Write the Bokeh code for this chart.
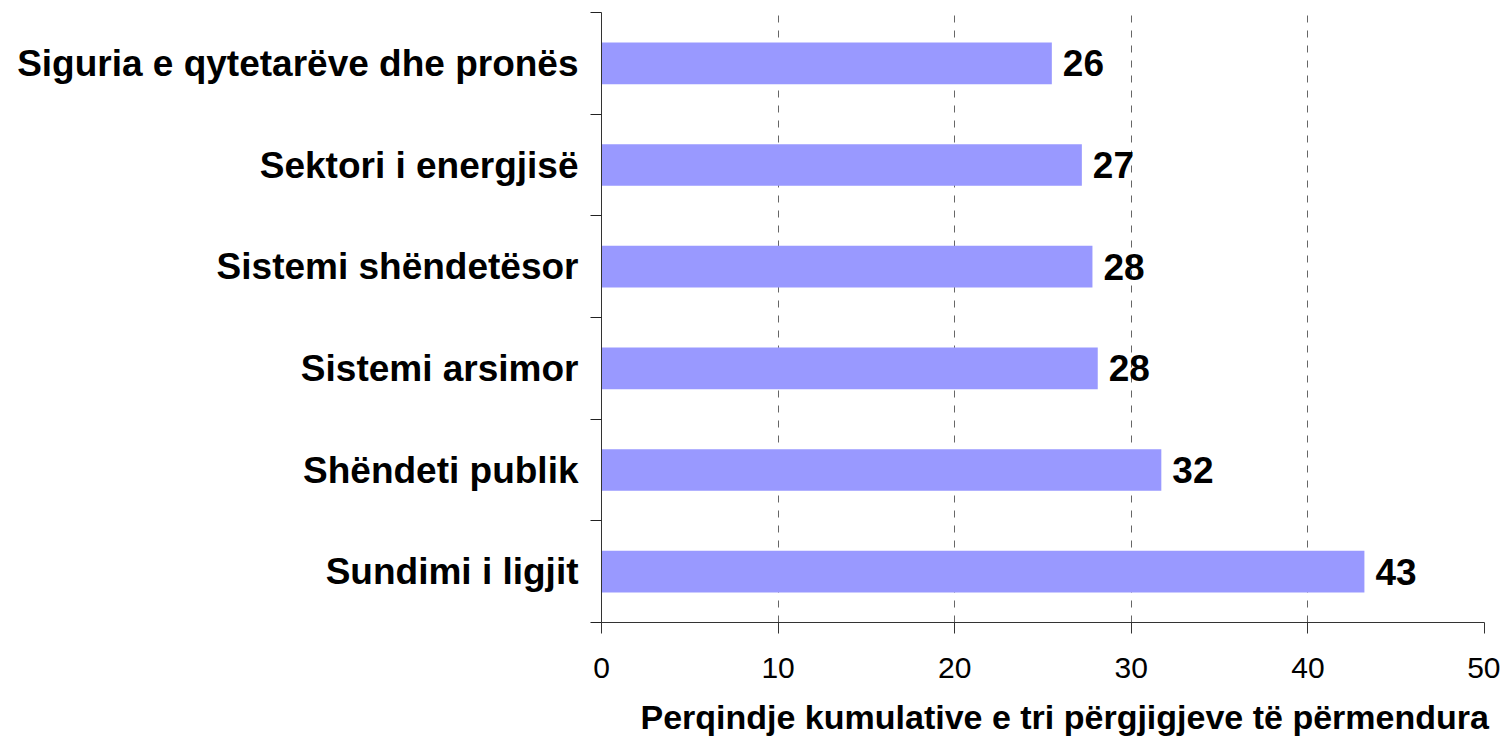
from bokeh.plotting import figure
from bokeh.models import Range1d, FixedTicker, ColumnDataSource, Title
from bokeh.core.properties import value
from bokeh.embed import file_html
from bokeh.resources import INLINE

# Data (top to bottom as shown)
categories = [
    "Siguria e qytetarëve dhe pronës",
    "Sektori i energjisë",
    "Sistemi shëndetësor",
    "Sistemi arsimor",
    "Shëndeti publik",
    "Sundimi i ligjit",
]
values = [25.5, 27.2, 27.8, 28.1, 31.7, 43.2]
x_ticks = [0, 10, 20, 30, 40, 50]
x_title = "Perqindje kumulative e tri përgjigjeve të përmendura"

n = len(categories)
ypos = [n - i - 0.5 for i in range(n)]
labels = [str(int(round(v))) for v in values]

src = ColumnDataSource(dict(y=ypos, v=values, lab=labels))

W, H = 1500, 750
p = figure(
    width=W, height=H,
    x_range=Range1d(0, 50), y_range=Range1d(0, n),
    output_backend="svg", toolbar_location=None,
    min_border_left=601, min_border_right=W - 601 - 883,
    min_border_top=12, min_border_bottom=H - 12 - 611,
)
p.outline_line_color = None
p.background_fill_color = "white"

p.hbar(y="y", right="v", left=0, height=0.41, source=src,
       fill_color="#9999FF", line_color=None)

p.text(x="v", y="y", text="lab", source=src, x_offset=11,
       text_align="left", text_baseline="middle",
       text_font=value("Liberation Sans"), text_font_style="bold",
       text_font_size="37px", text_color="black")

# X axis
xa = p.xaxis[0]
xa.ticker = FixedTicker(ticks=x_ticks)
xa.major_tick_out = 11
xa.major_tick_in = 0
xa.minor_tick_out = 0
xa.minor_tick_in = 0
xa.axis_line_color = "#333333"
xa.major_tick_line_color = "#333333"
xa.major_label_text_font = "Liberation Sans"
xa.major_label_text_font_size = "30px"
xa.major_label_text_color = "black"
xa.major_label_standoff = 24

# Y axis: boundaries as ticks, labels at centres
ya = p.yaxis[0]
ya.ticker = FixedTicker(ticks=ypos, minor_ticks=list(range(n + 1)))
ya.major_label_overrides = {y: c for y, c in zip(ypos, categories)}
ya.major_tick_out = 0
ya.major_tick_in = 0
ya.minor_tick_out = 11
ya.minor_tick_in = 0
ya.minor_tick_line_color = "#222222"
ya.axis_line_color = "#333333"
ya.major_label_text_font = "Liberation Sans"
ya.major_label_text_font_style = "bold"
ya.major_label_text_font_size = "37px"
ya.major_label_text_color = "black"
ya.major_label_standoff = 12

# Grid
p.xgrid.ticker = FixedTicker(ticks=x_ticks[1:])
p.xgrid.grid_line_color = "#666666"
p.xgrid.grid_line_dash = "7 8"
p.xgrid.grid_line_width = 1
p.ygrid.grid_line_color = None

t = Title(text=x_title, align="left", offset=39, standoff=30,
          text_font="Liberation Sans", text_font_style="bold",
          text_font_size="34px", text_color="black")
p.add_layout(t, "below")

open("out.html", "w").write(file_html(p, INLINE))
